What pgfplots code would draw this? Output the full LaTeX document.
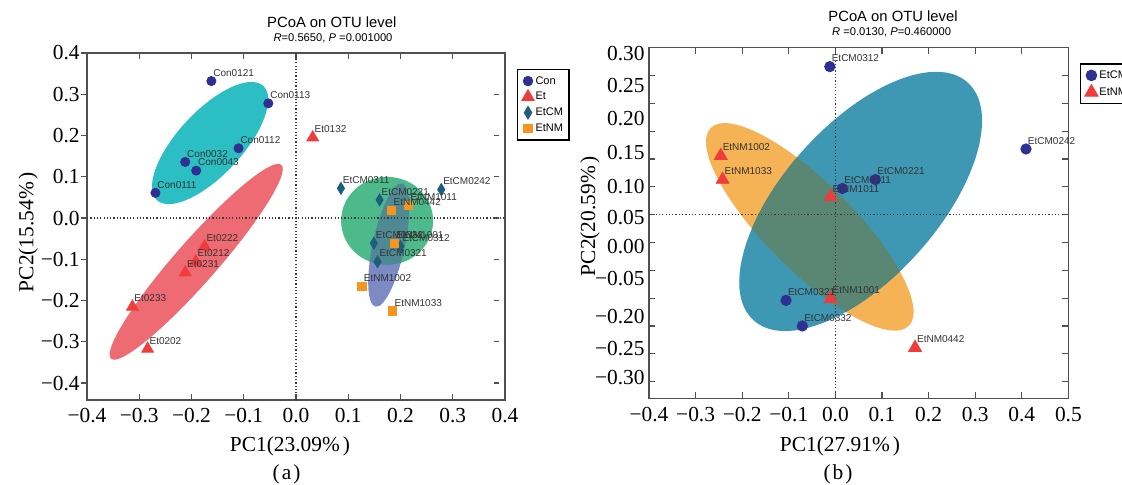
\documentclass[border=0pt]{standalone}
\usepackage{pgfplots}
\pgfplotsset{compat=1.18}
\usepackage{pgfplotstable}
\usepackage{fontspec}
\setmainfont{Liberation Serif}
\setsansfont{Liberation Sans}

\definecolor{conC}{HTML}{2E3192}
\definecolor{etC}{HTML}{EE3D3A}
\definecolor{cmC}{HTML}{1B5E7E}
\definecolor{nmC}{HTML}{F7941D}
\definecolor{cyanE}{HTML}{2BBEC2}
\definecolor{redE}{HTML}{EF6B73}
\definecolor{greenE}{HTML}{4DBA8C}
\definecolor{blueE}{HTML}{7D8BC4}
\definecolor{gbE}{HTML}{4F8A94}
\definecolor{tealE}{HTML}{3F98B3}
\definecolor{orE}{HTML}{F6B356}
\definecolor{otE}{HTML}{5A8674}
\definecolor{frameC}{HTML}{505050}
\definecolor{dotC}{HTML}{3A3A3A}

% ---------- data panel (a) ----------
\pgfplotstableread{
x y label
-0.162 0.332 Con0121
-0.053 0.278 Con0113
-0.110 0.169 Con0112
-0.212 0.136 Con0032
-0.191 0.115 Con0043
-0.269 0.061 Con0111
}\conA
\pgfplotstableread{
x y label
-0.175 -0.069 Et0222
-0.192 -0.106 Et0212
-0.212 -0.132 Et0231
-0.313 -0.215 Et0233
-0.284 -0.317 Et0202
0.032 0.195 Et0132
}\etA
\pgfplotstableread{
x y label
0.086 0.072 EtCM0311
0.278 0.069 EtCM0242
0.160 0.044 EtCM0221
0.149 -0.061 EtCM0332
0.200 -0.069 EtCM0312
0.156 -0.106 EtCM0321
}\cmA
\pgfplotstableread{
x y label
0.215 0.031 EtNM1011
0.183 0.018 EtNM0442
0.188 -0.061 EtNM1001
0.126 -0.165 EtNM1002
0.185 -0.225 EtNM1033
}\nmA
% ---------- data panel (b) ----------
\pgfplotstableread{
x y label
-0.012 0.266 EtCM0312
0.409 0.118 EtCM0242
0.086 0.063 EtCM0221
0.015 0.047 EtCM0311
-0.106 -0.154 EtCM0321
-0.071 -0.200 EtCM0332
}\cmB
\pgfplotstableread{
x y label
-0.246 0.106 EtNM1002
-0.242 0.063 EtNM1033
-0.010 0.032 EtNM1011
-0.010 -0.151 EtNM1001
0.171 -0.239 EtNM0442
}\nmB
% tick labels of panel (b), as printed (positions in data units of the axis)
\pgfplotstableread{
y label
0.289 0.30
0.2317 0.25
0.1735 0.20
0.1108 0.15
0.0507 0.10
-0.0057 0.05
-0.0568 0.00
-0.1154 −0.05
-0.1835 −0.20
-0.2409 −0.25
-0.2929 −0.30
}\tkB

\pgfplotsset{
  pc/.style={scale only axis, axis line style={frameC, line width=0.7pt},
    tick style={frameC, line width=0.6pt},
    tick label style={font=\fontsize{10.7}{12}\selectfont},
    legend style={draw=black, line width=0.6pt, font=\sffamily\fontsize{5.5}{6}\selectfont,
      inner sep=2.2pt, nodes={inner sep=0.8pt, text height=4.3pt, text depth=1.2pt},
      cells={anchor=west}},
    legend image code/.code={\draw[mark repeat=2, mark phase=2, #1] plot coordinates {(0pt,0pt) (4pt,0pt) (8pt,0pt)};},
  },
  lbl/.style={forget plot, draw=none, mark=none, nodes near coords, point meta=explicit symbolic,
    every node near coord/.append style={font=\sffamily\fontsize{5}{5}\selectfont, text=black!80,
      anchor=base west, inner sep=0pt, xshift=0.8pt, yshift=2.4pt}},
  dotl/.style={forget plot, dotC, line width=0.6pt, dash pattern=on 0.6pt off 1.05pt},
}

\begin{document}
\begin{tikzpicture}
\useasboundingbox (0pt,0pt) rectangle (561pt,242pt);
\clip (0pt,0pt) rectangle (561pt,242pt);

% ================= panel (a) =================
\begin{axis}[pc, at={(43.5pt,42pt)}, anchor=south west, width=209pt, height=173.5pt,
  xmin=-0.4, xmax=0.4, ymin=-0.441, ymax=0.4,
  xtick={-0.4,-0.3,-0.2,-0.1,0,0.1,0.2,0.3,0.4},
  xticklabels={−0.4,−0.3,−0.2,−0.1,0.0,0.1,0.2,0.3,0.4},
  ytick={-0.4,-0.3,-0.2,-0.1,0,0.1,0.2,0.3,0.4},
  yticklabels={−0.4,−0.3,−0.2,−0.1,0.0,0.1,0.2,0.3,0.4},
  major tick length=2.8pt,
  y tick style={xshift=-2.8pt},
  xticklabel style={inner sep=0pt, yshift=-4.1pt},
  yticklabel style={inner sep=0pt, xshift=-3.5pt},
  legend style={at={(1.029,0.954)}, anchor=north west, row sep=0.8pt},
]
\fill[cyanE, rotate around={47:(axis cs:-0.1644,0.1818)}] (axis cs:-0.1644,0.1818) ellipse [x radius=39pt, y radius=16pt];
\fill[redE, rotate around={48.7:(axis cs:-0.191,-0.106)}] (axis cs:-0.191,-0.106) ellipse [x radius=64.5pt, y radius=10.5pt];
\fill[greenE] (axis cs:0.1744,-0.0068) ellipse [x radius=23pt, y radius=22pt];
\fill[blueE, rotate around={77.8:(axis cs:0.1775,-0.0655)}] (axis cs:0.1775,-0.0655) ellipse [x radius=31.5pt, y radius=8pt];
\begin{scope}
\clip (axis cs:0.1744,-0.0068) ellipse [x radius=23pt, y radius=22pt];
\fill[gbE, rotate around={77.8:(axis cs:0.1775,-0.0655)}] (axis cs:0.1775,-0.0655) ellipse [x radius=31.5pt, y radius=8pt];
\end{scope}
\addplot[dotl] coordinates {(0,-0.441) (0,0.4)};
\addplot[dotl] coordinates {(-0.4,0) (0.4,0)};
\addplot[only marks, mark=*, mark size=2.3pt, color=conC] table[x=x,y=y] {\conA};
\addplot[only marks, mark=triangle*, mark size=3.4pt, color=etC] table[x=x,y=y] {\etA};
\addplot[only marks, mark=diamond*, mark size=3pt, mark options={xscale=0.8}, color=cmC] table[x=x,y=y] {\cmA};
\addplot[only marks, mark=square*, mark size=2.1pt, color=nmC] table[x=x,y=y] {\nmA};
\addplot[lbl] table[x=x,y=y,meta=label] {\conA};
\addplot[lbl] table[x=x,y=y,meta=label] {\etA};
\addplot[lbl] table[x=x,y=y,meta=label] {\cmA};
\addplot[lbl] table[x=x,y=y,meta=label] {\nmA};
\legend{Con,Et,EtCM,EtNM}
\end{axis}

% ================= panel (b) =================
\begin{axis}[pc, at={(324.5pt,42.85pt)}, anchor=south west, width=209.7pt, height=175.3pt,
  xmin=-0.4, xmax=0.5, ymin=-0.33, ymax=0.30,
  xtick={-0.4,-0.3,-0.2,-0.1,0,0.1,0.2,0.3,0.4,0.5},
  xticklabels={−0.4,−0.3,−0.2,−0.1,0.0,0.1,0.2,0.3,0.4,0.5},
  ytick={-0.30,-0.25,-0.20,-0.15,-0.10,-0.05,0,0.05,0.10,0.15,0.20,0.25,0.30},
  yticklabels={{},{},{},{},{},{},{},{},{},{},{},{},{}},
  major tick length=3pt,
  xticklabel style={inner sep=0pt, yshift=-4.2pt},
  legend style={at={(1.0277,0.9555)}, anchor=north west, row sep=1.2pt},
]
\fill[orE, rotate around={-45:(axis cs:-0.055,-0.0219)}] (axis cs:-0.055,-0.0219) ellipse [x radius=70pt, y radius=22pt];
\fill[tealE, rotate around={48:(axis cs:0.0542,0.0238)}] (axis cs:0.0542,0.0238) ellipse [x radius=80pt, y radius=38.5pt];
\begin{scope}
\clip[rotate around={-45:(axis cs:-0.055,-0.0219)}] (axis cs:-0.055,-0.0219) ellipse [x radius=70pt, y radius=22pt];
\fill[otE, rotate around={48:(axis cs:0.0542,0.0238)}] (axis cs:0.0542,0.0238) ellipse [x radius=80pt, y radius=38.5pt];
\end{scope}
\addplot[dotl] coordinates {(0,-0.33) (0,0.30)};
\addplot[dotl] coordinates {(-0.4,0) (0.5,0)};
\addplot[only marks, mark=*, mark size=2.6pt, color=conC] table[x=x,y=y] {\cmB};
\addplot[only marks, mark=triangle*, mark size=3.7pt, color=etC] table[x=x,y=y] {\nmB};
\addplot[lbl] table[x=x,y=y,meta=label] {\cmB};
\addplot[lbl] table[x=x,y=y,meta=label] {\nmB};
\legend{EtCM,EtNM}
\end{axis}
% overlay axis carrying the printed y tick labels of panel (b)
\begin{axis}[scale only axis, at={(324.5pt,42.85pt)}, anchor=south west, width=209.7pt, height=175.3pt,
  xmin=-0.4, xmax=0.5, ymin=-0.33, ymax=0.30, clip=false,
  axis line style={draw=none}, major tick length=0pt, xtick=\empty, ytick=\empty]
\addplot[draw=none, mark=none, nodes near coords, point meta=explicit symbolic,
  every node near coord/.append style={font=\fontsize{10.7}{12}\selectfont, text=black,
    anchor=east, inner sep=0pt, xshift=-2pt, yshift=0pt}]
  table[x expr=-0.4, y=y, meta=label] {\tkB};
\end{axis}

% ================= texts =================
\node[font=\sffamily\fontsize{7.4}{8}\selectfont] at (165.9pt,231pt) {PCoA on OTU level};
\node[font=\sffamily\fontsize{5.6}{6}\selectfont] at (166.5pt,223pt) {\textit{R}=0.5650, \textit{P} =0.001000};
\node[font=\sffamily\fontsize{7.4}{8}\selectfont] at (446.5pt,234pt) {PCoA on OTU level};
\node[font=\sffamily\fontsize{5.6}{6}\selectfont] at (445.8pt,225.7pt) {\textit{R} =0.0130, \textit{P}=0.460000};

\node[font=\fontsize{10.7}{12}\selectfont, anchor=base] at (145pt,16.2pt) {PC1(23.09\%\hspace{1.5pt})};
\node[font=\fontsize{10.7}{12}\selectfont, anchor=base] at (143.3pt,2.4pt) {(\hspace{1pt}a\hspace{1pt})};
\node[font=\fontsize{10.7}{12}\selectfont, anchor=base] at (420pt,16.2pt) {PC1(27.91\%\hspace{1.5pt})};
\node[font=\fontsize{10.7}{12}\selectfont, anchor=base] at (419pt,2.4pt) {(\hspace{1pt}b\hspace{1pt})};
\node[font=\fontsize{10.7}{12}\selectfont, anchor=base, rotate=90] at (16.7pt,126pt) {PC2(15.54\%\hspace{1.5pt})};
\node[font=\fontsize{10.7}{12}\selectfont, anchor=base, rotate=90] at (297.5pt,134pt) {PC2(20.59\%\hspace{1.5pt})};
\end{tikzpicture}
\end{document}
